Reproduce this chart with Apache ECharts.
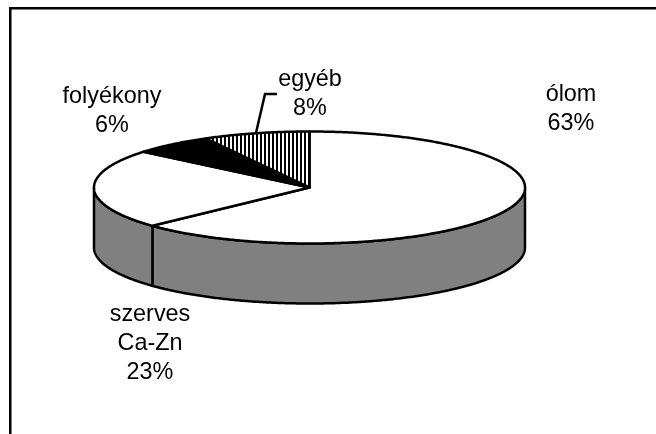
<!DOCTYPE html>
<html>
<head>
<meta charset="utf-8">
<style>html,body{margin:0;padding:0;background:#fff}#c{width:656px;height:434px}</style>
<script src="https://cdn.jsdelivr.net/npm/echarts@6/dist/echarts.min.js"></script>
</head>
<body>
<div id="c"></div>
<script>
var categories = ['ólom', 'szerves\nCa-Zn', 'folyékony', 'egyéb'];
var values = [63, 23, 6, 8];
var fills = ['#ffffff', '#ffffff', '#000000', 'hatch'];

var geo = {cx: 309.5, cy: 187.5, rx: 215.5, ry: 56, depth: 60};
var labelPos = [[571, 109.5], [150, 344], [112, 111], [310, 94.5]];
var leaderElbow = [[265, 94], [277, 94]];
var font = '23.4px "Liberation Sans", Arial, sans-serif';
var strokeW = 2.5;

var total = values.reduce(function (a, b) { return a + b; }, 0);
function pt(deg, dy) {
  var r = deg * Math.PI / 180;
  return [geo.cx + geo.rx * Math.sin(r), geo.cy - geo.ry * Math.cos(r) + (dy || 0)];
}
function arc(a, b, dy) {
  var out = [], n = Math.max(2, Math.ceil(Math.abs(b - a) * 2));
  for (var i = 0; i <= n; i++) out.push(pt(a + (b - a) * i / n, dy));
  return out;
}
var pc = document.createElement('canvas');
pc.width = 4; pc.height = 4;
var g = pc.getContext('2d');
g.fillStyle = '#fff'; g.fillRect(0, 0, 4, 4);
g.fillStyle = '#000'; g.fillRect(0, 0, 2, 4);
var hatch = {image: pc, repeat: 'repeat'};

var starts = [], s = 0;
values.forEach(function (v) { starts.push(s); s += v; });

function renderItem(params, api) {
  var i = params.dataIndex;
  var a0 = api.value(2) / total * 360, a1 = a0 + api.value(1) / total * 360;
  var kids = [];
  var w0 = Math.max(a0, 90), w1 = Math.min(a1, 270);
  if (w1 > w0) {
    var top = arc(w0, w1, 0), bot = arc(w1, w0, geo.depth);
    kids.push({type: 'polygon', z2: 1, shape: {points: top.concat(bot)},
      style: {fill: '#808080', stroke: '#000', lineWidth: strokeW, lineJoin: 'round'}});
  }
  var f = fills[i] === 'hatch' ? hatch : fills[i];
  kids.push({type: 'polygon', z2: 2 + i, shape: {points: [[geo.cx, geo.cy]].concat(arc(a0, a1, 0))},
    style: {fill: f, stroke: '#000', lineWidth: strokeW, lineJoin: 'round'}});
  kids.push({type: 'text', z2: 20, style: {
    x: labelPos[i][0], y: labelPos[i][1],
    text: categories[i] + '\n' + api.value(1) + '%',
    font: font, lineHeight: 29, fill: '#000', align: 'center', verticalAlign: 'middle'
  }});
  if (i === 3) {
    kids.push({type: 'polyline', z2: 19, shape: {points: [pt((a0 + a1) / 2)].concat(leaderElbow)},
      style: {fill: 'none', stroke: '#000', lineWidth: strokeW}});
  }
  return {type: 'group', children: kids};
}

var chart = echarts.init(document.getElementById('c'), null, {renderer: 'canvas'});
chart.setOption({
  animation: false,
  backgroundColor: '#fff',
  graphic: [
    {type: 'rect', shape: {x: 9, y: 7, width: 647, height: 2.5}, style: {fill: '#000'}},
    {type: 'rect', shape: {x: 9, y: 7, width: 2.5, height: 427}, style: {fill: '#000'}}
  ],
  series: [{
    type: 'custom',
    coordinateSystem: 'none',
    renderItem: renderItem,
    data: values.map(function (v, i) { return [i, v, starts[i]]; })
  }]
});
</script>
</body>
</html>
